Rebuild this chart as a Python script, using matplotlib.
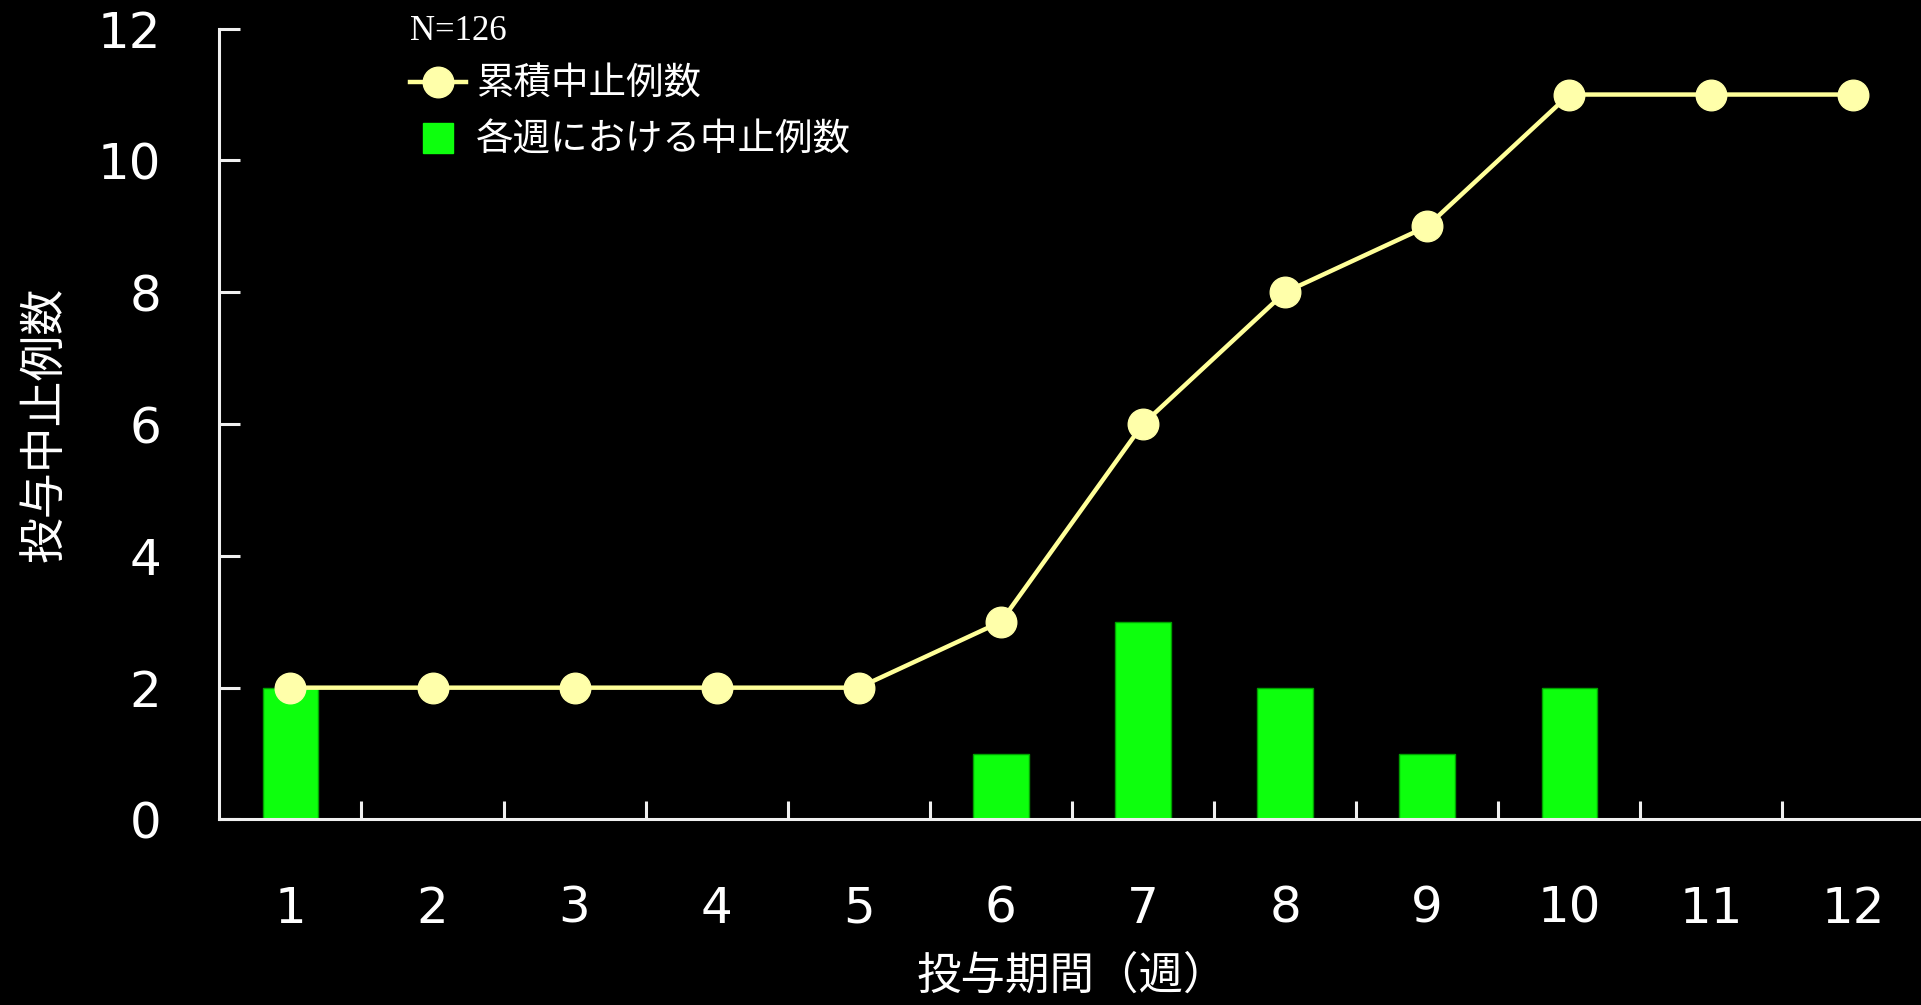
import numpy as np
import matplotlib.pyplot as plt
from matplotlib.lines import Line2D

plt.rcParams['font.family'] = ['Noto Sans CJK JP', 'DejaVu Sans']

# data
weeks = [1, 2, 3, 4, 5, 6, 7, 8, 9, 10, 11, 12]
weekly_stops = [2, 0, 0, 0, 0, 1, 3, 2, 1, 2, 0, 0]
cumulative_stops = [2, 2, 2, 2, 2, 3, 6, 8, 9, 11, 11, 11]
y_ticks = [0, 2, 4, 6, 8, 10, 12]

fg = 'white'
bar_color = '#0dff0d'
line_color = '#ffff99'
marker_color = '#ffffaa'

fig = plt.figure(figsize=(19.21, 10.05), dpi=100, facecolor='black')
ax = fig.add_axes([0.1142, 0.1846, 0.8876, 0.7869], facecolor='black')

ax.bar(weeks, weekly_stops, width=0.39, color=bar_color,
       edgecolor='#00a000', linewidth=1.0, zorder=2)
ax.plot(weeks, cumulative_stops, color=line_color, linewidth=3.2,
        marker='o', markersize=22, markerfacecolor=marker_color,
        markeredgecolor=marker_color, zorder=3, clip_on=False)

ax.set_xlim(0.5, 12.5)
ax.set_ylim(0, 12)

for side in ['top', 'right']:
    ax.spines[side].set_visible(False)
for side in ['left', 'bottom']:
    ax.spines[side].set_color('#f0f0f0')
    ax.spines[side].set_linewidth(2.2)

# labels centred on the weeks, tick marks between them
ax.set_xticks(weeks)
ax.set_xticklabels([str(w) for w in weeks], family='DejaVu Sans')
ax.set_xticks(np.arange(1.5, 12.5, 1.0), minor=True)
ax.tick_params(axis='x', which='major', length=0, pad=47,
               labelsize=36, labelcolor=fg)
ax.tick_params(axis='x', which='minor', direction='in', length=13,
               width=2.2, color='#f0f0f0')

ax.set_yticks(y_ticks)
ax.set_yticklabels([str(v) for v in y_ticks], family='DejaVu Sans')
ax.tick_params(axis='y', direction='in', length=15, width=2.2,
               color='#f0f0f0', pad=42, labelsize=36, labelcolor=fg)

ax.set_xlabel('投与期間（週）', color=fg, fontsize=32, labelpad=14)
ax.set_ylabel('投与中止例数', color=fg, fontsize=33, labelpad=21)

handles = [
    Line2D([0], [0], color=line_color, linewidth=3.2, marker='o',
           markersize=22, markerfacecolor=marker_color,
           markeredgecolor=marker_color),
    Line2D([0], [0], linestyle='none', marker='s', markersize=21,
           markerfacecolor=bar_color, markeredgecolor=bar_color),
]
leg = ax.legend(handles, ['累積中止例数', '各週における中止例数'],
                title='N=126', frameon=False, loc='upper left',
                bbox_to_anchor=(0.092, 1.06), fontsize=27,
                handlelength=1.5, handletextpad=0.25, labelspacing=0.45,
                alignment='left')
leg.get_title().set_color(fg)
leg.get_title().set_fontsize(25)
leg.get_title().set_family(['Liberation Serif', 'DejaVu Serif'])
for t in leg.get_texts():
    t.set_color(fg)

fig.savefig('out.png', dpi=100, facecolor='black')
